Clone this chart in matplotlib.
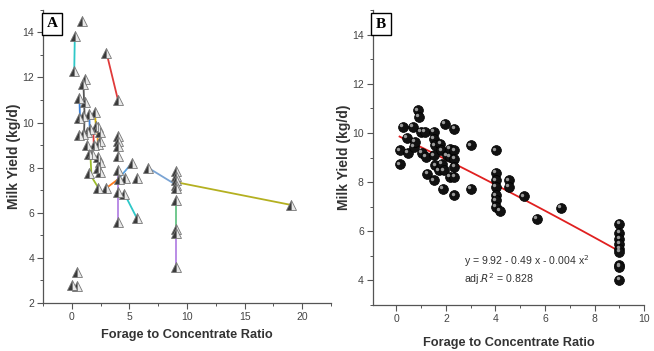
import numpy as np
import matplotlib
matplotlib.use("Agg")
from matplotlib import pyplot as plt
from matplotlib.ticker import MultipleLocator
from matplotlib import transforms

plt.rcParams["font.family"] = ["Liberation Sans", "DejaVu Sans"]

# ---- panel A: individual study points (forage:concentrate, milk yield) ----
a_x = [0.85, 0.25, 0.2, 3.0, 4.0,
       1.15, 1.0, 0.65, 1.15, 0.65, 1.0, 1.5, 2.0,
       0.65, 0.95, 1.35, 1.6, 2.1, 2.3, 2.4,
       1.35, 1.9, 2.25, 2.4, 1.5, 1.7, 2.3, 2.4, 2.3, 2.4, 1.5,
       2.3, 3.0,
       4.0, 4.0, 4.0, 4.0, 4.0, 4.05, 4.0, 4.0,
       4.55, 5.65, 4.6, 5.2, 5.65, 6.6,
       9.0, 9.0, 9.0, 9.0, 9.0, 9.0, 9.0, 9.0, 9.0,
       19.0,
       0.4, 0.0, 0.45]
a_y = [14.5, 13.85, 12.3, 13.1, 11.0,
       11.95, 11.7, 11.1, 10.9, 10.2, 10.3, 10.4, 10.45,
       9.45, 9.5, 9.6, 9.7, 9.85, 9.8, 9.6,
       9.0, 9.0, 9.05, 9.2, 8.6, 8.6, 8.45, 8.25, 8.0, 7.8, 7.75,
       7.1, 7.1,
       9.4, 9.2, 8.95, 8.5, 7.9, 7.5, 6.9, 5.6,
       6.85, 5.75, 7.55, 8.2, 7.55, 8.0,
       7.85, 7.65, 7.45, 7.25, 7.1, 6.55, 5.3, 5.1, 3.6,
       6.35,
       3.35, 2.8, 2.75]

# within-study treatment lines (x list, y list, colour)
a_lines = [
    ([0.25, 0.2], [13.85, 12.3], "#2ec8c8"),
    ([3.0, 4.0], [13.1, 11.0], "#e03a3a"),
    ([1.15, 1.0, 1.1, 1.05], [11.95, 11.7, 10.3, 9.5], "#555555"),
    ([0.65, 0.7], [11.1, 10.2], "#3a80d8"),
    ([1.5, 1.55], [10.4, 9.7], "#3a80d8"),
    ([2.0, 2.1], [10.45, 9.7], "#d8b400"),
    ([1.85, 1.9], [9.7, 9.0], "#e03a3a"),
    ([2.2, 2.25], [9.8, 9.05], "#f0a020"),
    ([1.6, 1.7, 2.3], [8.6, 7.6, 7.1], "#9cbc2c"),
    ([3.0, 4.05], [7.1, 7.5], "#ff7a1a"),
    ([4.0, 4.0], [7.9, 5.6], "#b484e4"),
    ([4.55, 5.65], [6.85, 5.75], "#2ec8c8"),
    ([4.05, 5.2], [7.5, 8.2], "#5aa2e2"),
    ([6.6, 9.0], [8.0, 7.25], "#7aa4d4"),
    ([9.1, 19.0], [7.35, 6.35], "#b4b020"),
    ([9.0, 9.0], [6.55, 5.3], "#66c486"),
    ([9.0, 9.0], [5.1, 3.6], "#b484e4"),
]

# ---- panel B: adjusted milk yield ----
b_x = [0.13, 0.16, 0.26, 0.42, 0.46, 0.68, 0.72, 0.76, 0.86, 0.92, 0.99, 1.03,
       1.16, 1.18, 1.25, 1.51, 1.53, 1.55, 1.51, 1.58, 1.53, 1.71, 1.78, 1.82,
       1.84, 1.91, 1.87, 1.97, 2.04, 2.17, 2.17, 2.17, 2.34, 2.34, 2.34, 2.34,
       2.34, 2.34, 3.0, 3.0, 4.01, 4.01, 4.01, 4.01, 4.01, 4.01, 4.01, 4.18,
       4.54, 4.54, 5.16, 5.66, 6.64,
       9.0, 9.0, 9.0, 9.0, 9.0, 9.0, 9.0, 9.0, 9.0]
b_y = [9.29, 8.72, 10.24, 9.79, 9.18, 10.24, 9.43, 9.63, 10.92, 10.65, 10.04, 9.18,
       10.04, 9.02, 8.34, 10.04, 9.77, 9.5, 9.09, 8.68, 8.07, 8.48, 9.56, 9.29,
       8.75, 8.48, 7.73, 10.38, 9.09, 9.36, 9.02, 8.2, 10.17, 9.29, 8.95, 8.61,
       8.2, 7.46, 9.5, 7.73, 9.29, 8.37, 8.07, 7.8, 7.46, 7.26, 6.98, 6.82,
       8.07, 7.8, 7.42, 6.51, 6.96,
       6.31, 5.94, 5.7, 5.49, 5.29, 5.15, 4.61, 4.54, 4.03]

fit_coef = [9.92, -0.49, -0.004]
fit_range = [0.13, 9.0]

label_col = "#333333"
tick_col = "#555555"


def style_axes(ax, xpad):
    for s in ["top", "right"]:
        ax.spines[s].set_visible(False)
    for s in ["left", "bottom"]:
        ax.spines[s].set_color(tick_col)
        ax.spines[s].set_linewidth(0.9)
    ax.tick_params(which="major", direction="out", length=4, width=0.8,
                   colors=tick_col, labelsize=7.5, labelcolor="#444444", pad=2.5)
    ax.tick_params(which="minor", direction="out", length=2.5, width=0.7,
                   colors=tick_col)
    ax.set_xlabel("Forage to Concentrate Ratio", fontsize=9.2, fontweight="bold",
                  color=label_col, labelpad=xpad)
    ax.set_ylabel("Milk Yield (kg/d)", fontsize=10, fontweight="bold",
                  color=label_col, labelpad=1)


fig = plt.figure(figsize=(6.54, 3.51), dpi=100)

# panel A
axA = fig.add_axes([0.066, 0.137, 0.44, 0.835])
for xs, ys, c in a_lines:
    axA.plot(xs, ys, color=c, lw=1.3, zorder=2)
axA.plot(a_x, a_y, ls="none", marker="^", ms=7.5, fillstyle="left",
         mfc="#3a3a3a", mfcalt="#e8e8e8", mec="#777777", mew=0.6, zorder=3)
axA.set_xlim(-2.5, 22.5)
axA.set_ylim(2, 15)
axA.xaxis.set_major_locator(MultipleLocator(5))
axA.xaxis.set_minor_locator(MultipleLocator(2.5))
axA.yaxis.set_major_locator(MultipleLocator(2))
axA.yaxis.set_minor_locator(MultipleLocator(1))
style_axes(axA, 5)
axA.text(0.012, 0.975, "A", transform=axA.transAxes, ha="left", va="top",
         fontsize=11, fontweight="bold", family="Liberation Serif",
         bbox=dict(boxstyle="square,pad=0.3", fc="white", ec="black", lw=1))

# panel B
axB = fig.add_axes([0.570, 0.131, 0.415, 0.840])
fx = np.linspace(fit_range[0], fit_range[1], 100)
fy = fit_coef[0] + fit_coef[1] * fx + fit_coef[2] * fx ** 2
axB.plot(fx, fy, color="#e02020", lw=1.3, zorder=2)
axB.scatter(b_x, b_y, s=50, c="#111111", edgecolors="#000000", linewidths=0.5,
            zorder=3)
hl = transforms.offset_copy(axB.transData, fig=fig, x=-1.3, y=1.3, units="points")
axB.scatter(b_x, b_y, s=6, c="#9a9a9a", linewidths=0, transform=hl, zorder=4)
axB.set_xlim(-0.95, 10)
axB.set_ylim(3, 15)
axB.xaxis.set_major_locator(MultipleLocator(2))
axB.xaxis.set_minor_locator(MultipleLocator(1))
axB.yaxis.set_major_locator(MultipleLocator(2))
axB.yaxis.set_minor_locator(MultipleLocator(1))
axB.set_yticks(np.arange(4, 15, 2))
style_axes(axB, 9)
axB.text(2.75, 4.64, "y = 9.92 - 0.49 x - 0.004 x$^2$", fontsize=7.6,
         color="#333333")
axB.text(2.75, 3.9, "adj.$R^2$ = 0.828", fontsize=7.6, color="#333333")
axB.text(0.012, 0.975, "B", transform=axB.transAxes, ha="left", va="top",
         fontsize=11, fontweight="bold", family="Liberation Serif",
         bbox=dict(boxstyle="square,pad=0.3", fc="white", ec="black", lw=1))

fig.savefig("out.png", dpi=100)
